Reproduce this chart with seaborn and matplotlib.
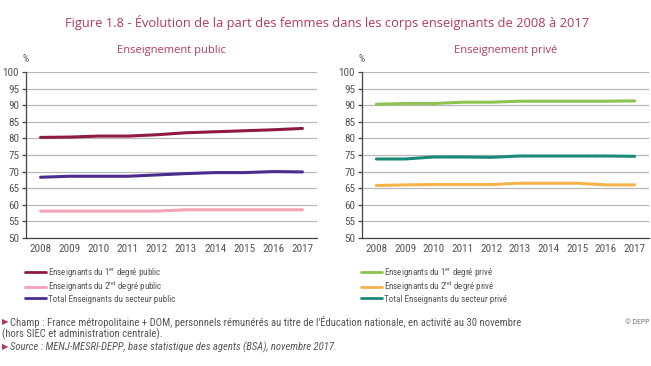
import matplotlib
matplotlib.use("Agg")
import matplotlib.pyplot as plt
import pandas as pd
import seaborn as sns

years = [2008, 2009, 2010, 2011, 2012, 2013, 2014, 2015, 2016, 2017]

# Enseignement public
pub_1er = [80.3, 80.4, 80.7, 80.7, 81.1, 81.7, 82.0, 82.3, 82.6, 83.0]
pub_2nd = [58.1, 58.1, 58.1, 58.1, 58.1, 58.5, 58.5, 58.5, 58.5, 58.5]
pub_total = [68.3, 68.6, 68.6, 68.6, 69.0, 69.4, 69.7, 69.7, 70.0, 69.9]

# Enseignement privé
priv_1er = [90.3, 90.5, 90.5, 90.9, 90.9, 91.2, 91.2, 91.2, 91.2, 91.3]
priv_2nd = [65.8, 66.0, 66.1, 66.1, 66.1, 66.5, 66.5, 66.5, 66.0, 66.0]
priv_total = [73.8, 73.8, 74.4, 74.4, 74.3, 74.7, 74.7, 74.7, 74.7, 74.6]

pub_labels = [r"Enseignants du 1$^{\mathregular{er}}$ degré public",
              r"Enseignants du 2$^{\mathregular{nd}}$ degré public",
              "Total Enseignants du secteur public"]
priv_labels = [r"Enseignants du 1$^{\mathregular{er}}$ degré privé",
               r"Enseignants du 2$^{\mathregular{nd}}$ degré privé",
               "Total Enseignants du secteur privé"]
pub_colors = ["#8e1a3f", "#f2a3b4", "#4b2c8c"]
priv_colors = ["#8dc44f", "#f4b44a", "#1a8a78"]

title_color = "#b03a60"
grey_txt = "#555555"

sns.set_style("white")
narrow = ['Roboto Condensed', 'Liberation Sans Narrow', 'Roboto', 'DejaVu Sans']
plt.rcParams['font.family'] = narrow
plt.rcParams['mathtext.fontset'] = 'custom'


def long_df(series, labels):
    rows = []
    for vals, lab in zip(series, labels):
        for y, v in zip(years, vals):
            rows.append({'annee': y, 'valeur': v, 'serie': lab})
    return pd.DataFrame(rows)


df_pub = long_df([pub_1er, pub_2nd, pub_total], pub_labels)
df_priv = long_df([priv_1er, priv_2nd, priv_total], priv_labels)

fig = plt.figure(figsize=(6.51, 3.66), dpi=100)
ax1 = fig.add_axes([26 / 651, 1 - 238 / 366, 291 / 651, 166 / 366])
ax2 = fig.add_axes([362 / 651, 1 - 238 / 366, 287 / 651, 166 / 366])


def style_panel(ax, df, labels, colors, subtitle):
    sns.lineplot(data=df, x='annee', y='valeur', hue='serie', hue_order=labels,
                 palette=dict(zip(labels, colors)), linewidth=2.2, ax=ax)
    ax.set_xlim(2007.5, 2017.5)
    ax.set_ylim(50, 100)
    ax.set_yticks(range(50, 101, 5))
    ax.set_xticks(years)
    ax.set_xticks([y - 0.5 for y in years] + [2017.5], minor=True)
    ax.tick_params(axis='x', which='major', length=0, labelsize=8, labelcolor=grey_txt, pad=4)
    ax.tick_params(axis='x', which='minor', length=4, width=0.9, color='#444444', direction='out')
    ax.tick_params(axis='y', length=3, width=0.9, color='#444444', labelsize=8,
                   labelcolor=grey_txt, pad=2, left=True)
    ax.yaxis.grid(True, color='#b8b8b8', linewidth=0.9)
    ax.set_axisbelow(True)
    for s in ['top', 'right']:
        ax.spines[s].set_visible(False)
    for s in ['left', 'bottom']:
        ax.spines[s].set_color('#444444')
        ax.spines[s].set_linewidth(0.9)
    ax.set_xlabel('')
    ax.set_ylabel('')
    ax.text(0, 1.08, '%', transform=ax.transAxes, ha='center', va='center',
            fontsize=7, color=grey_txt)
    ax.set_title(subtitle, fontsize=8, color=title_color, pad=14,
                 family=['Open Sans', 'DejaVu Sans'])
    sns.move_legend(ax, 'upper left', bbox_to_anchor=(-0.005, -0.17), frameon=False,
                    title=None, fontsize=6.5, handlelength=2.4, handletextpad=0.25,
                    labelspacing=0.05, borderpad=0, borderaxespad=0)
    leg = ax.get_legend()
    for t in leg.get_texts():
        t.set_color(grey_txt)
    for h in leg.legend_handles:
        h.set_linewidth(2)


style_panel(ax1, df_pub, pub_labels, pub_colors, "Enseignement public")
style_panel(ax2, df_priv, priv_labels, priv_colors, "Enseignement privé")

fig.text(327 / 651, 1 - 23 / 366,
         "Figure 1.8 - Évolution de la part des femmes dans les corps enseignants de 2008 à 2017",
         ha='center', va='center', fontsize=9.3, color=title_color,
         family=['Open Sans', 'DejaVu Sans'])

fig.text(2 / 651, 1 - 322 / 366, "▶", ha='left', va='center', fontsize=6, color=title_color,
         family=['DejaVu Sans'])
fig.text(10 / 651, 1 - 322 / 366,
         "Champ : France métropolitaine + DOM, personnels rémunérés au titre de l'Éducation nationale, en activité au 30 novembre",
         ha='left', va='center', fontsize=7.7, color=grey_txt)
fig.text(2 / 651, 1 - 334 / 366, "(hors SIEC et administration centrale).",
         ha='left', va='center', fontsize=7.7, color=grey_txt)
fig.text(2 / 651, 1 - 347 / 366, "▶", ha='left', va='center', fontsize=6, color=title_color,
         family=['DejaVu Sans'])
fig.text(10 / 651, 1 - 347 / 366,
         "Source : MENJ-MESRI-DEPP, base statistique des agents (BSA), novembre 2017.",
         ha='left', va='center', fontsize=7.7, color=grey_txt, style='italic')
fig.text(649 / 651, 1 - 322 / 366, "© DEPP", ha='right', va='center', fontsize=5.5,
         color='#777777')

fig.savefig('out.png', dpi=100)
